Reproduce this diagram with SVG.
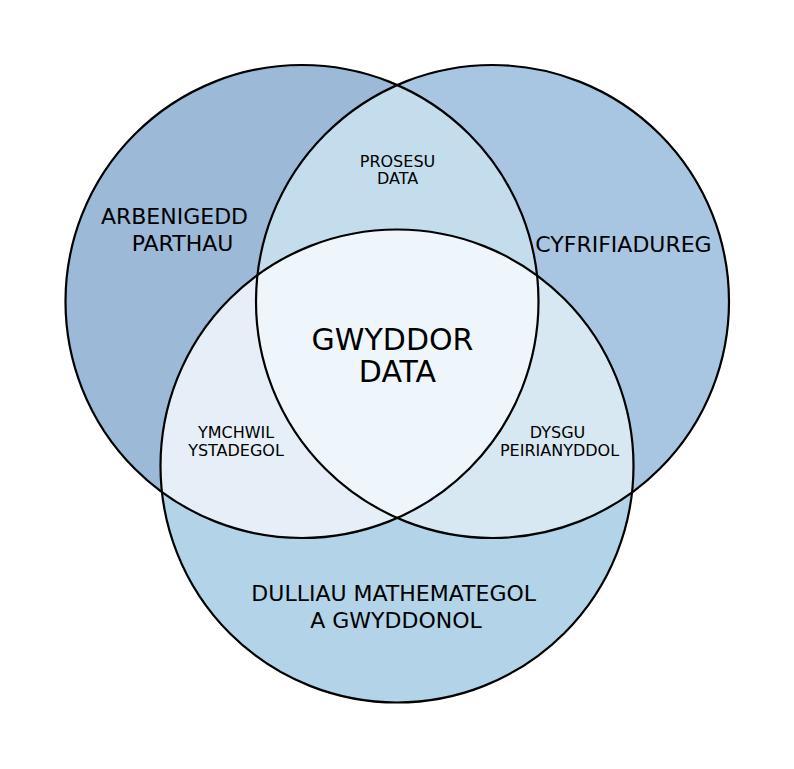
<svg xmlns="http://www.w3.org/2000/svg" width="794" height="769" viewBox="0 0 794 769">
<style>
.edge{fill:none;stroke:#000;stroke-width:2.2}
.t{font-family:"DejaVu Sans",sans-serif;fill:#000;text-anchor:middle}
.l{font-size:22px}
.s{font-size:16px}
.c{font-size:30px}
</style>
<defs>
<clipPath id="cL"><circle cx="302" cy="301.5" r="236.5"/></clipPath>
<clipPath id="cR"><circle cx="492.5" cy="301.5" r="236.5"/></clipPath>
<clipPath id="cLR" clip-path="url(#cL)"><circle cx="492.5" cy="301.5" r="236.5"/></clipPath>
</defs>
<rect width="794" height="769" fill="#fff"/>
<g id="regions">
<g id="set-left"><circle cx="302" cy="301.5" r="236.5" fill="#9db9d8"/></g>
<g id="set-right"><circle cx="492.5" cy="301.5" r="236.5" fill="#a8c6e2"/></g>
<g id="set-bottom"><circle cx="397" cy="466" r="236.5" fill="#b3d3e8"/></g>
<g id="left-right"><circle cx="492.5" cy="301.5" r="236.5" fill="#c4ddec" clip-path="url(#cL)"/></g>
<g id="left-bottom"><circle cx="397" cy="466" r="236.5" fill="#e6eff7" clip-path="url(#cL)"/></g>
<g id="right-bottom"><circle cx="397" cy="466" r="236.5" fill="#d8e8f3" clip-path="url(#cR)"/></g>
<g id="center"><circle cx="397" cy="466" r="236.5" fill="#eff6fb" clip-path="url(#cLR)"/></g>
</g>
<g id="outlines">
<circle class="edge" cx="302" cy="301.5" r="236.5"/>
<circle class="edge" cx="492.5" cy="301.5" r="236.5"/>
<circle class="edge" cx="397" cy="466" r="236.5"/>
</g>
<g id="labels">
<text class="t l" x="174.5" y="224">ARBENIGEDD</text>
<text class="t l" x="182.5" y="251">PARTHAU</text>
<text class="t l" x="623.5" y="251.5">CYFRIFIADUREG</text>
<text class="t s" x="397.5" y="166.5">PROSESU</text>
<text class="t s" x="397.5" y="184.2">DATA</text>
<text class="t c" x="392.5" y="349.5">GWYDDOR</text>
<text class="t c" x="397.5" y="382">DATA</text>
<text class="t s" x="236" y="437.5">YMCHWIL</text>
<text class="t s" x="236" y="455.5">YSTADEGOL</text>
<text class="t s" x="557.5" y="437.5">DYSGU</text>
<text class="t s" x="559.5" y="455.5">PEIRIANYDDOL</text>
<text class="t l" x="393.7" y="601">DULLIAU MATHEMATEGOL</text>
<text class="t l" x="396" y="628">A GWYDDONOL</text>
</g>
</svg>
